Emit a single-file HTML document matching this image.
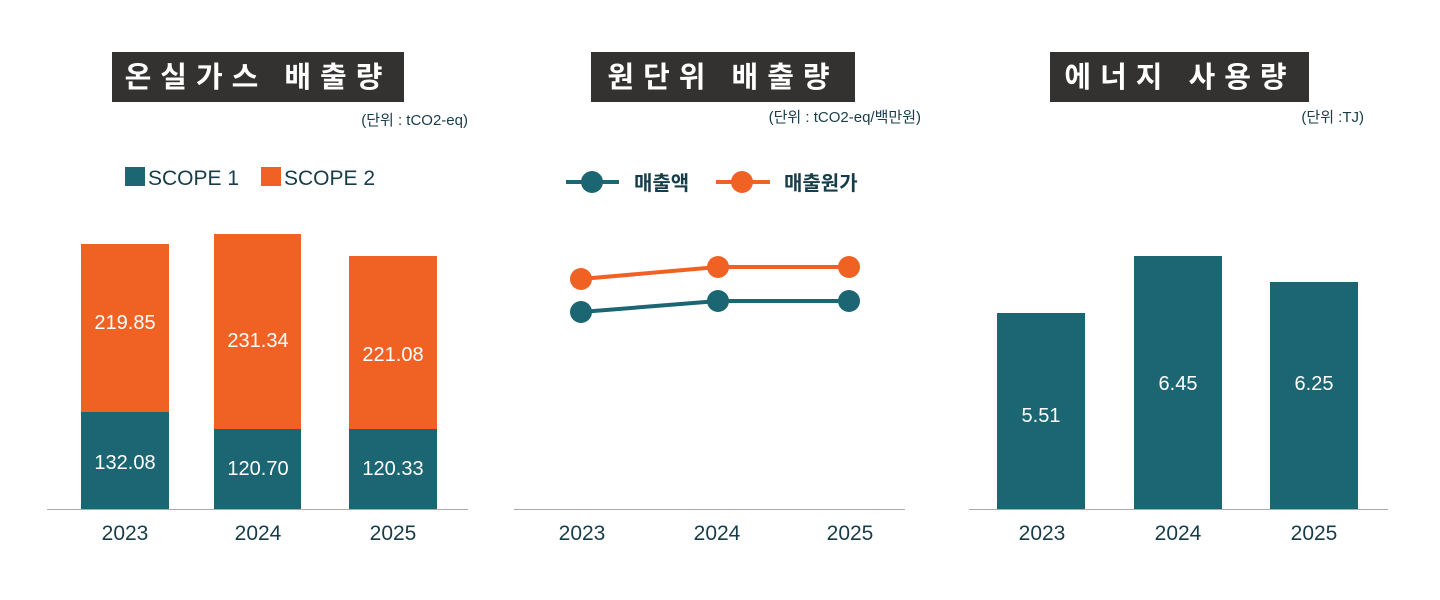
<!DOCTYPE html>
<html><head><meta charset="utf-8"><style>
body{margin:0;background:#fff;}
svg{display:block;font-family:"Liberation Sans","Noto Sans CJK KR",sans-serif;}
</style></head><body>
<svg width="1440" height="600" viewBox="0 0 1440 600">
<!-- Chart 1 -->
<rect x="112" y="52" width="292" height="50" fill="#333230"/>
<text x="258" y="87" fill="#fff" font-size="29" font-weight="bold" text-anchor="middle" letter-spacing="9">온실가스 배출량</text>
<text x="468" y="125" fill="#173c4a" font-size="15" text-anchor="end">(단위 : tCO2-eq)</text>
<rect x="125" y="167" width="20" height="19" fill="#1b6672"/>
<text x="148" y="185" fill="#173c4a" font-size="21">SCOPE 1</text>
<rect x="261" y="167" width="20" height="19" fill="#ef6224"/>
<text x="284" y="185" fill="#173c4a" font-size="21">SCOPE 2</text>
<rect x="81" y="244" width="88" height="168" fill="#ef6224"/>
<rect x="81" y="412" width="88" height="97" fill="#1b6672"/>
<rect x="214" y="234" width="87" height="195" fill="#ef6224"/>
<rect x="214" y="429" width="87" height="80" fill="#1b6672"/>
<rect x="349" y="256" width="88" height="173" fill="#ef6224"/>
<rect x="349" y="429" width="88" height="80" fill="#1b6672"/>
<g fill="#fff" font-size="20" text-anchor="middle">
<text x="125" y="329">219.85</text><text x="125" y="469">132.08</text>
<text x="258" y="347">231.34</text><text x="258" y="475">120.70</text>
<text x="393" y="361">221.08</text><text x="393" y="475">120.33</text>
</g>
<line x1="47" y1="509.5" x2="468" y2="509.5" stroke="#aaa" stroke-width="1"/>
<g fill="#173c4a" font-size="21" text-anchor="middle">
<text x="125" y="540">2023</text><text x="258" y="540">2024</text><text x="393" y="540">2025</text>
</g>
<!-- Chart 2 -->
<rect x="591" y="52" width="264" height="50" fill="#333230"/>
<text x="723" y="87" fill="#fff" font-size="29" font-weight="bold" text-anchor="middle" letter-spacing="9">원단위 배출량</text>
<text x="921" y="122" fill="#173c4a" font-size="15" text-anchor="end">(단위 : tCO2-eq/백만원)</text>
<line x1="566" y1="182" x2="619" y2="182" stroke="#1b6672" stroke-width="4"/>
<circle cx="592" cy="182" r="11" fill="#1b6672"/>
<text x="634" y="190" fill="#173c4a" font-size="20" font-weight="bold">매출액</text>
<line x1="716" y1="182" x2="770" y2="182" stroke="#ef6224" stroke-width="4"/>
<circle cx="742" cy="182" r="11" fill="#ef6224"/>
<text x="784" y="190" fill="#173c4a" font-size="20" font-weight="bold">매출원가</text>
<polyline points="581,279 718,267 849,267" fill="none" stroke="#ef6224" stroke-width="4"/>
<polyline points="581,312 718,301 849,301" fill="none" stroke="#1b6672" stroke-width="4"/>
<g fill="#ef6224"><circle cx="581" cy="279" r="11"/><circle cx="718" cy="267" r="11"/><circle cx="849" cy="267" r="11"/></g>
<g fill="#1b6672"><circle cx="581" cy="312" r="11"/><circle cx="718" cy="301" r="11"/><circle cx="849" cy="301" r="11"/></g>
<line x1="514" y1="509.5" x2="905" y2="509.5" stroke="#aaa" stroke-width="1"/>
<g fill="#173c4a" font-size="21" text-anchor="middle">
<text x="582" y="540">2023</text><text x="717" y="540">2024</text><text x="850" y="540">2025</text>
</g>
<!-- Chart 3 -->
<rect x="1050" y="52" width="259" height="50" fill="#333230"/>
<text x="1180" y="87" fill="#fff" font-size="29" font-weight="bold" text-anchor="middle" letter-spacing="9">에너지 사용량</text>
<text x="1364" y="122" fill="#173c4a" font-size="15" text-anchor="end">(단위 :TJ)</text>
<rect x="997" y="313" width="88" height="196" fill="#1b6672"/>
<rect x="1134" y="256" width="88" height="253" fill="#1b6672"/>
<rect x="1270" y="282" width="88" height="227" fill="#1b6672"/>
<g fill="#fff" font-size="20" text-anchor="middle">
<text x="1041" y="422">5.51</text><text x="1178" y="390">6.45</text><text x="1314" y="390">6.25</text>
</g>
<line x1="969" y1="509.5" x2="1388" y2="509.5" stroke="#aaa" stroke-width="1"/>
<g fill="#173c4a" font-size="21" text-anchor="middle">
<text x="1042" y="540">2023</text><text x="1178" y="540">2024</text><text x="1314" y="540">2025</text>
</g>
</svg>
</body></html>
